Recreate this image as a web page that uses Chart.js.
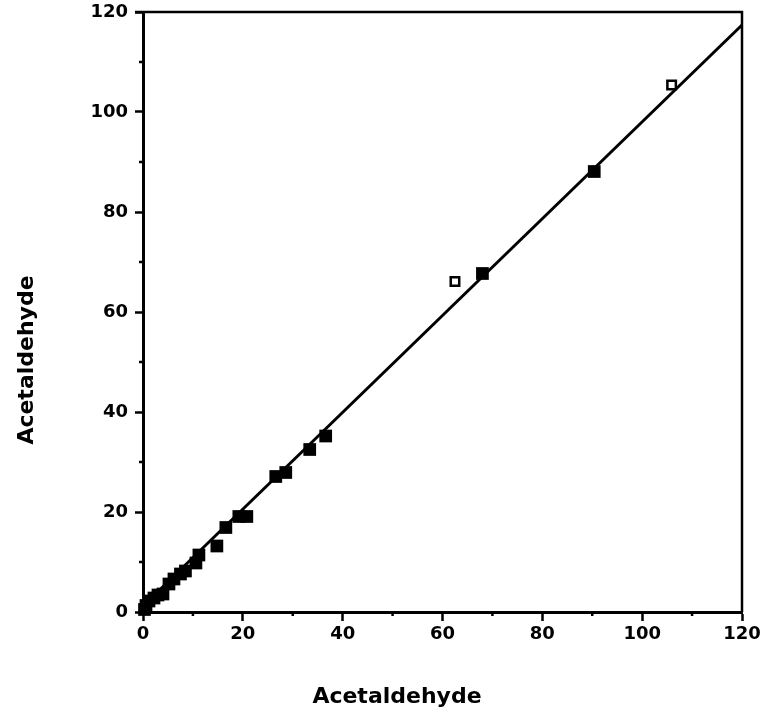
<!DOCTYPE html>
<html>
<head>
<meta charset="utf-8">
<script src="https://cdn.jsdelivr.net/npm/chart.js@4.4.0/dist/chart.umd.min.js"></script>
<style>
  html, body { margin: 0; padding: 0; background: #fff; }
  #wrap { width: 767px; height: 719px; }
</style>
</head>
<body>
<div id="wrap"><canvas id="c" width="767" height="719"></canvas></div>
<script>
// valeurs
const filledX = [0.3, 0.6, 1.2, 2.2, 3.0, 4.0, 5.2, 6.2, 7.5, 8.5, 10.6, 11.2, 14.8, 16.6, 19.2, 20.8, 26.6, 28.6, 33.4, 36.6, 68.0, 90.4];
const filledY = [0.5, 1.3, 2.2, 2.8, 3.4, 3.6, 5.6, 6.6, 7.6, 8.2, 9.8, 11.4, 13.2, 16.9, 19.1, 19.1, 27.1, 27.9, 32.5, 35.2, 67.7, 88.1];
const openX = [62.5, 105.9];
const openY = [66.1, 105.4];
const fitX = [0, 120];
const fitY = [1.2, 117.4];
const axisTitle = "Acetaldehyde";

const toPts = (xs, ys) => xs.map((x, i) => ({ x: x, y: ys[i] }));

const tickFont = { family: "DejaVu Sans", weight: "bold", size: 18 };

// ticks mineurs, cadre et titres
const extras = {
  id: "extras",
  afterDraw(chart) {
    const ctx = chart.ctx;
    const a = chart.chartArea;
    const xs = chart.scales.x, ys = chart.scales.y;
    ctx.save();
    ctx.strokeStyle = "#000";
    ctx.lineWidth = 2.5;
    ctx.beginPath();
    for (let v = 10; v <= 110; v += 20) {
      const px = xs.getPixelForValue(v);
      ctx.moveTo(px, a.bottom);
      ctx.lineTo(px, a.bottom + 4);
      const py = ys.getPixelForValue(v);
      ctx.moveTo(a.left, py);
      ctx.lineTo(a.left - 4, py);
    }
    ctx.stroke();
    // haut et droite
    ctx.beginPath();
    ctx.moveTo(a.left - 8, a.top);
    ctx.lineTo(a.right, a.top);
    ctx.lineTo(a.right, a.bottom);
    ctx.stroke();
    // titres
    ctx.fillStyle = "#000";
    ctx.font = "bold 22px 'DejaVu Sans'";
    ctx.textAlign = "center";
    ctx.textBaseline = "middle";
    ctx.fillText(axisTitle, 397, 697);
    ctx.translate(27, 360);
    ctx.rotate(-Math.PI / 2);
    ctx.fillText(axisTitle, 0, 0);
    ctx.restore();
  }
};

new Chart(document.getElementById("c"), {
  type: "scatter",
  data: {
    datasets: [
      {
        label: "fit",
        data: toPts(fitX, fitY),
        showLine: true,
        borderColor: "#000",
        borderWidth: 3,
        pointRadius: 0,
        clip: false
      },
      {
        label: "filled",
        data: toPts(filledX, filledY),
        pointStyle: "rect",
        pointRadius: 9,
        backgroundColor: "#000",
        borderColor: "#000",
        borderWidth: 0,
        clip: false
      },
      {
        label: "open",
        data: toPts(openX, openY),
        pointStyle: "rect",
        pointRadius: 6,
        backgroundColor: "#fff",
        borderColor: "#000",
        borderWidth: 2.5,
        clip: false
      }
    ]
  },
  options: {
    responsive: false,
    animation: false,
    layout: { padding: { left: 0, top: 12, right: 25, bottom: 0 } },
    plugins: { legend: { display: false }, tooltip: { enabled: false } },
    scales: {
      x: {
        type: "linear",
        min: 0, max: 120,
        afterFit(s) { s.height = 107; s.paddingLeft = 0; s.paddingRight = 0; },
        border: { display: true, color: "#000", width: 3 },
        grid: { drawOnChartArea: false, drawTicks: true, tickLength: 9, tickWidth: 2.5, tickColor: "#000" },
        ticks: { stepSize: 20, color: "#000", font: tickFont, padding: 3, maxRotation: 0 }
      },
      y: {
        type: "linear",
        min: 0, max: 120,
        afterFit(s) { s.width = 143; s.paddingTop = 0; s.paddingBottom = 0; },
        border: { display: true, color: "#000", width: 3 },
        grid: { drawOnChartArea: false, drawTicks: true, tickLength: 8, tickWidth: 2.5, tickColor: "#000" },
        ticks: { stepSize: 20, color: "#000", font: tickFont, padding: 7 }
      }
    }
  },
  plugins: [extras]
});
</script>
</body>
</html>
